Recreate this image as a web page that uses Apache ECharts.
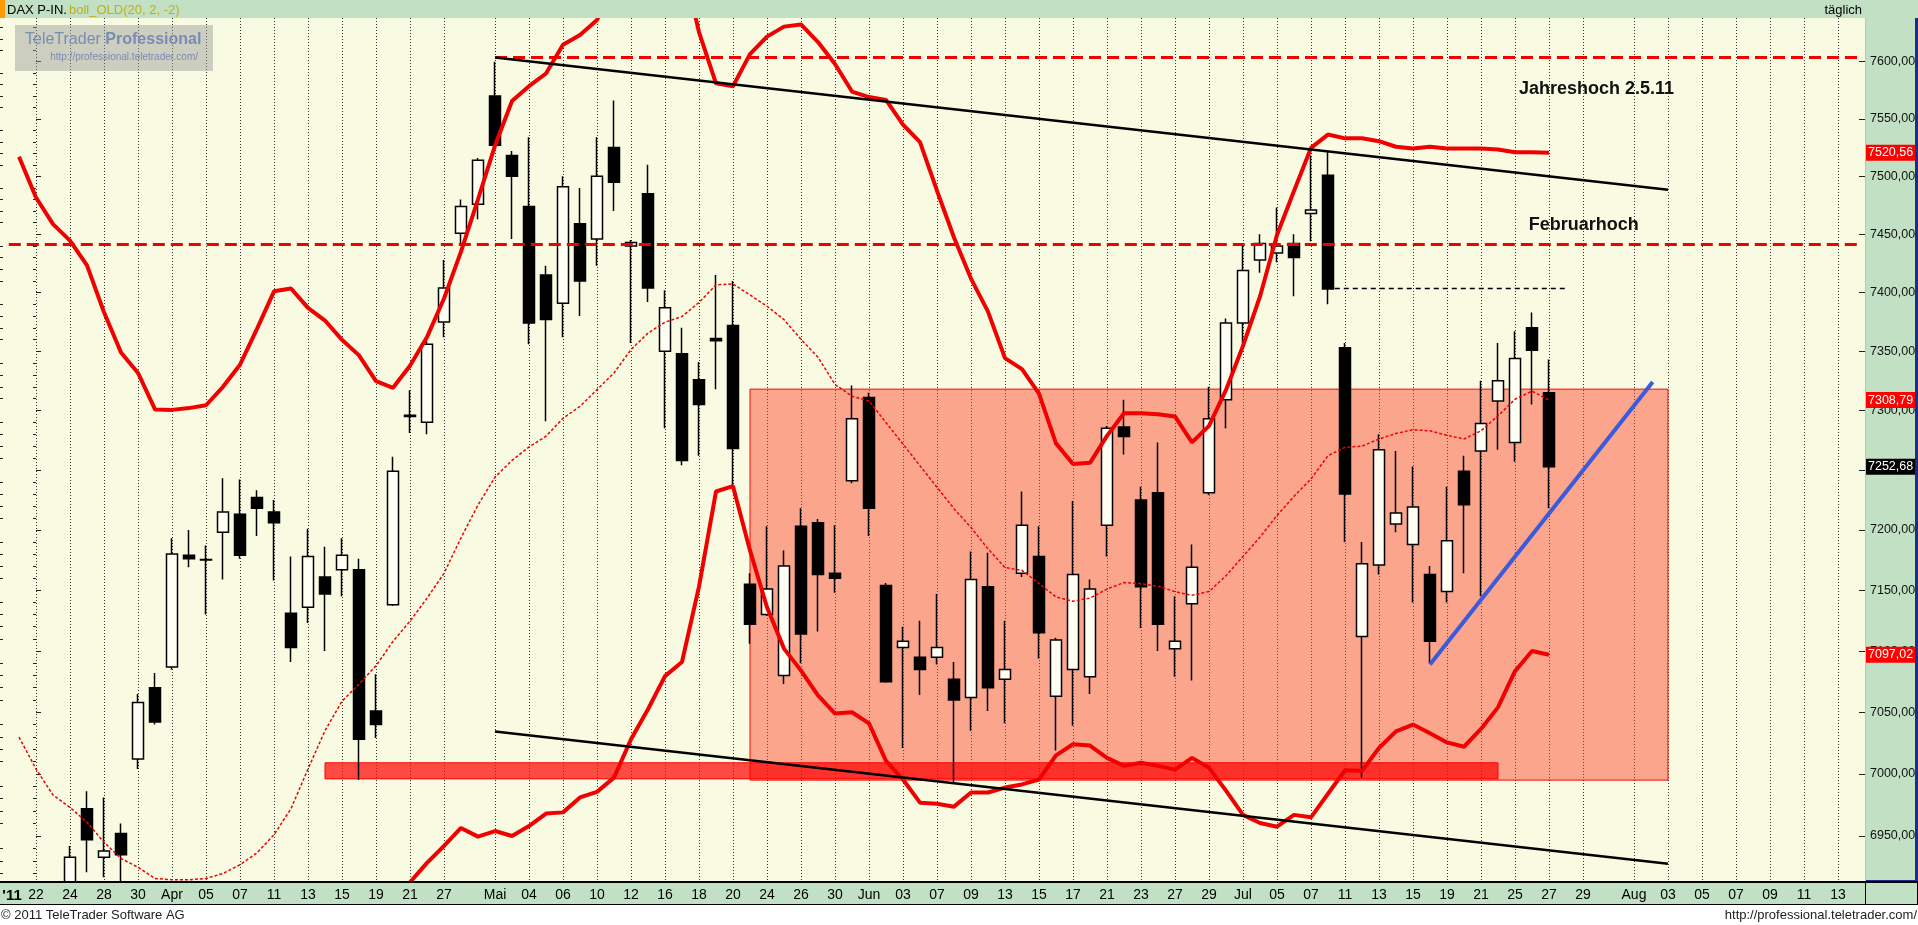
<!DOCTYPE html>
<html><head><meta charset="utf-8">
<script src="https://cdn.jsdelivr.net/npm/echarts@6/dist/echarts.min.js"></script>
<style>html,body{margin:0;padding:0;background:#fff;}#c{width:1918px;height:925px;}</style>
</head><body><div id="c"></div>
<script>
// ---------- DATA ----------
// x positions are trading-day slots; slot 0 = 22 Mar 2011, future slots are calendar days
const FIRST_CANDLE_SLOT = 2; // 24 Mar
const opens = [
 6895,6972,6933,6952,7012,7070,7087,7179,7175,7198,
 7213,7227,7215,7131,7136,7161,7167,7167,7051,7138,
 7295,7290,7375,7451,7476,7570,7518,7474,7415,7391,
 7459,7446,7525,7440,7485,7350,7348,7326,7361,7372,
 7155,7130,7080,7203,7206,7164,7241,7311,7154,7103,
 7095,7095,7077,7062,7153,7077,7164,7178,7063,7085,
 7079,7204,7286,7225,7231,7102,7139,7231,7309,7374,
 7428,7434,7442,7468,7501,7353,7112,7171,7205,7188,
 7163,7149,7249,7266,7308,7273,7370,7315];
const closes = [
 6933,6947,6938,6935,7058,7042,7180,7176,7175.5,7215,
 7179,7218,7206,7103,7178,7147,7179,7028,7040,7249,
 7296,7356,7404,7474,7514,7527,7500,7374,7377,7491,
 7410,7500,7495,7443,7404,7387,7258,7305,7359,7268,
 7122,7151,7170,7114,7163,7160,7293,7218,7075,7108,
 7085,7103,7060,7159,7070,7085,7204,7115,7109,7163,
 7151,7285,7278,7153,7122,7108,7169,7293,7374,7419,
 7442,7440,7430,7471,7403,7230,7172,7267,7214,7219,
 7108,7191,7221,7289,7325,7344,7351,7252.68];
const lows = [
 6880,6921,6917,6905,7004,7040,7085,7169,7130,7159,
 7176,7195,7158,7091,7123,7100,7145,6995,7029,7137,
 7281,7280,7362,7441,7463,7524,7446,7356,7291,7362,
 7380,7423,7470,7357,7392,7285,7254,7262,7318,7236,
 7106,7129,7073,7090,7116,7148,7239,7195,7074,7021,
 7064,7089,6992,7035,7051,7041,7161,7094,7019,7039,
 7065,7178,7263,7119,7100,7079,7076,7229,7285,7357,
 7417,7426,7397,7444,7390,7190,6997,7163,7198,7140,
 7090,7140,7164,7145,7267,7257,7305,7218];
const highs = [
 6942,6986,6981,6960,7065,7082,7193,7200,7187,7243,
 7242,7233,7225,7178,7201,7186,7193,7176,7081,7261,
 7317,7359,7428,7480,7516,7600,7522,7534,7423,7500,
 7490,7534,7566,7445,7510,7402,7370,7341,7415,7410,
 7164,7203,7183,7218,7209,7204,7321,7315,7156,7120,
 7125,7147,7091,7182,7181,7125,7232,7203,7111,7224,
 7159,7287,7309,7236,7273,7145,7188,7320,7378,7442,
 7450,7473,7450,7518,7521,7357,7190,7280,7266,7253,
 7170,7236,7262,7325,7357,7367,7383,7343];

const BAND_FIRST_SLOT = -1; // 21 Mar
const upperBand = [
 7517,7481.7,7458.8,7444.6,7423.3,7383.3,7349,7331.7,7300.9,7300.5,
 7302,7304.4,7320,7338.7,7369.1,7401.1,7403.5,7387,7376.2,7359.8,
 7346.6,7324.7,7319.1,7337.8,7362.1,7395,7435.1,7480.2,7526.6,7565.5,
 7578.5,7589.6,7614.9,7623.5,7636.7,7665,7690,7705,7705,7690,
 7626,7581,7578.5,7606.6,7622,7630.8,7632.7,7617.2,7597.9,7573.8,
 7569,7566.5,7545,7529.7,7487.6,7447.3,7412,7383.8,7344.3,7334.9,
 7314.3,7272.3,7255.1,7256,7278.6,7297.7,7297.7,7296.8,7295,7273.2,
 7287,7317.3,7354.6,7396.7,7449.4,7487.4,7524.7,7536.3,7533,7533,
 7530.5,7525.7,7524.2,7525.7,7524.2,7524.2,7524.2,7523.3,7520.9,7520.9,
 7520.56];
const midBand = [
 7029.8,7004,6983,6973,6961,6945,6932,6925,6916,6915,
 6915,6916,6920,6927,6936.5,6951,6972,7004,7035,7059,
 7073,7088,7108,7124.5,7143.5,7164,7193.5,7220.7,7244,7258,
 7269.3,7278.3,7293.4,7303.5,7317.6,7331.7,7351.5,7365.5,7374.8,7379.6,
 7391.6,7406.6,7407.4,7398,7388.4,7377,7360.2,7345,7322,7312,
 7308,7289.8,7271.7,7253.5,7235.6,7217.7,7202,7184.3,7168.8,7166.5,
 7155.6,7144.5,7141,7143.6,7151,7156.4,7155.5,7153.3,7148.9,7145.8,
 7149,7162,7178,7194,7212,7228,7242.5,7262,7269,7270,
 7276,7280.6,7283.8,7282.9,7279.2,7276,7282.9,7295.5,7309.4,7316.3,
 7308.79];
const LOWER_FIRST_SLOT = 21; // 20 Apr
const lowerBand = [
 6880,6913,6928.5,6942,6956.5,6949.5,6954,6950,6958,6968,
 6969,6981,6985.5,6997,7028,7052.5,7079.5,7091,7153,7232,
 7236.5,7183,7136,7102,7084,7063.7,7049,7050,7041,7010.5,
 6995.5,6976.8,6976,6973.6,6985,6985,6989,6991.5,6995.5,7015,
 7024,7023,7013,7006.5,7009,7006.5,7003.5,7013,7005,6986.5,
 6967,6960.4,6957.5,6967,6965,6984,7003,7002.5,7021,7034.5,
 7040,7033,7025.5,7022,7036.5,7054,7083.5,7100,7097.02];

// x axis tick labels
const tickSlots = [0,2,4,6,8,10,12,14,16,18,20,22,24,
 27,29,31,33,35,37,39,41,43,45,47,
 49,51,53,55,57,59,61,63,65,67,69,
 71,73,75,77,79,81,83,85,87,89,91,
 94,96,98,100,102,104,106];
const tickLabels = ['22','24','28','30','Apr','05','07','11','13','15','19','21','27',
 'Mai','04','06','10','12','16','18','20','24','26','30',
 'Jun','03','07','09','13','15','17','21','23','27','29',
 'Jul','05','07','11','13','15','19','21','25','27','29',
 'Aug','03','05','07','09','11','13'];
const yearTickSlot = -1.41;
const yearTickLabel = "'11";
// y axis tick labels
const priceTicks = [6950,7000,7050,7100,7150,7200,7250,7300,7350,7400,7450,7500,7550,7600];

// annotations (slot, price)
const yearHighLine = [[27, 7604], [107.2, 7604]];
const febHighLine = [[-1.6, 7441.5], [107.2, 7441.5]];
const channelUpper = [[27, 7603.7], [96, 7488.5]];
const channelLower = [[27, 7034.4], [96, 6927.7]];
const jul8CloseLine = [[76.4, 7403.5], [90.1, 7403.5]];
const supportLine = [[82, 7089], [95.1, 7324]];
const rangeBox = [[42, 7318], [96, 6995]];
const supportBar = [[17, 7009], [86, 6996]];
const noteTexts = ['Jahreshoch 2.5.11', 'Februarhoch'];
const notePos = [[91.8, 7576], [91.05, 7458]];
const lastUpper = 7520.56, lastMid = 7308.79, lastClose = 7252.68, lastLower = 7097.02;

// ---------- CHART ----------
const X_MIN = -2.118, X_MAX = 107.59, Y_MIN = 6913.2, Y_MAX = 7638.4;
const GREEN = '#c2e1c4', RED = '#f00000';
const FONT = '"Liberation Sans", Arial, sans-serif';

const candles = opens.map((o, i) => [FIRST_CANDLE_SLOT + i, o, closes[i], lows[i], highs[i]]);
const upperData = upperBand.map((v, i) => [BAND_FIRST_SLOT + i, v]);
const midData = midBand.map((v, i) => [BAND_FIRST_SLOT + i, v]);
const lowerData = lowerBand.map((v, i) => [LOWER_FIRST_SLOT + i, v]);

const xLabelMap = new Map(tickSlots.map((s, i) => [s, tickLabels[i]]));
const minorTicks = [];
for (let v = 6920; v <= 7630; v += 10) if (v % 50 !== 0) minorTicks.push(v);
const fmt = v => Number(v).toFixed(2).replace('.', ',');

function seg(pts, style) {
  return [{coord: pts[0], lineStyle: style}, {coord: pts[1]}];
}
function valueBox(v, bg) {
  return {yAxis: v, lineStyle: {color: 'rgba(0,0,0,0)', width: 0},
    label: {show: true, position: 'end', distance: 1, formatter: () => fmt(v),
      backgroundColor: bg, color: '#fff', fontSize: 12.5, fontFamily: FONT, padding: [2, 2, 1, 2]}};
}
const yBase = {type: 'log', logBase: 10, min: Y_MIN, max: Y_MAX, gridIndex: 0,
  splitLine: {show: false}, axisLabel: {show: false}, axisLine: {show: false}};

const option = {
  animation: false,
  backgroundColor: '#ffffff',
  grid: {left: 0, right: 53, top: 18, bottom: 43, show: true, backgroundColor: '#f8fbe1',
    borderWidth: 0, containLabel: false, outerBoundsMode: 'none'},
  xAxis: [{
    type: 'value', min: X_MIN, max: X_MAX, position: 'bottom',
    axisLine: {show: false},
    axisTick: {show: false, customValues: tickSlots},
    splitLine: {show: true, lineStyle: {color: '#333', width: 1, type: [1, 2]}},
    axisLabel: {show: false}
  }, {
    type: 'value', min: X_MIN, max: X_MAX, position: 'bottom', z: 20,
    axisLine: {show: true, onZero: false, lineStyle: {color: '#000', width: 2}},
    axisTick: {show: false, customValues: tickSlots},
    splitLine: {show: false},
    axisLabel: {customValues: [yearTickSlot].concat(tickSlots), margin: 6, fontSize: 14, color: '#000',
      fontFamily: FONT,
      formatter: v => (Math.abs(v - yearTickSlot) < 1e-6 ? '{y|' + yearTickLabel + '}' : (xLabelMap.get(v) || '')),
      rich: {y: {fontWeight: 'bold', fontSize: 15, color: '#000', fontFamily: FONT}}}
  }],
  yAxis: [
    Object.assign({}, yBase, {position: 'right',
      axisLine: {show: true, onZero: false, lineStyle: {color: '#e6c35a', width: 1}},
      axisTick: {show: true, inside: true, length: 6, customValues: priceTicks, lineStyle: {color: '#222'}},
      axisLabel: {show: true, customValues: priceTicks, formatter: fmt, margin: 5, fontSize: 12.5,
        color: '#111', fontFamily: FONT}}),
    Object.assign({}, yBase, {position: 'right',
      axisTick: {show: true, inside: true, length: 3, customValues: minorTicks, lineStyle: {color: '#222'}}}),
    Object.assign({}, yBase, {position: 'left',
      axisTick: {show: true, inside: true, length: 5, customValues: priceTicks, lineStyle: {color: '#222'}}}),
    Object.assign({}, yBase, {position: 'left',
      axisTick: {show: true, inside: true, length: 3, customValues: minorTicks, lineStyle: {color: '#222'}}})
  ],
  series: [
    {
      type: 'candlestick', name: 'DAX', data: candles, barWidth: 12, clip: true, z: 3,
      itemStyle: {color: '#fffff4', color0: '#000', borderColor: '#000', borderColor0: '#000', borderWidth: 1.5},
      markArea: {silent: true, data: [
        [{coord: rangeBox[0], itemStyle: {color: 'rgba(255,60,40,0.45)', borderColor: '#f00', borderWidth: 1}}, {coord: rangeBox[1]}],
        [{coord: supportBar[0], itemStyle: {color: 'rgba(255,0,0,0.7)', borderColor: '#f00', borderWidth: 1}}, {coord: supportBar[1]}]
      ]},
      markLine: {silent: true, symbol: ['none', 'none'], label: {show: false}, data: [
        seg(yearHighLine, {color: RED, width: 3, type: [12, 6]}),
        seg(febHighLine, {color: RED, width: 3, type: [12, 6]}),
        seg(channelUpper, {color: '#000', width: 2.5, type: 'solid'}),
        seg(channelLower, {color: '#000', width: 2.5, type: 'solid'}),
        seg(jul8CloseLine, {color: '#000', width: 1.3, type: [5, 4]}),
        seg(supportLine, {color: '#3b5bdb', width: 4, type: 'solid'}),
        valueBox(lastUpper, '#f00'),
        valueBox(lastMid, '#f00'),
        valueBox(lastClose, '#000'),
        valueBox(lastLower, '#f00')
      ]},
      markPoint: {silent: true, symbol: 'circle', symbolSize: 0,
        data: noteTexts.map((t, i) => ({name: t, coord: notePos[i]})),
        label: {show: true, position: 'inside', formatter: '{b}', fontSize: 18, fontWeight: 'bold',
          color: '#111', fontFamily: FONT}}
    },
    {type: 'line', name: 'upper', data: upperData, symbol: 'none', clip: true, z: 4,
      lineStyle: {color: RED, width: 4}},
    {type: 'line', name: 'lower', data: lowerData, symbol: 'none', clip: true, z: 4,
      lineStyle: {color: RED, width: 4}},
    {type: 'line', name: 'mid', data: midData, symbol: 'none', clip: true, z: 4,
      lineStyle: {color: RED, width: 1.5, type: [3, 2]}}
  ],
  graphic: [
    {type: 'rect', z: 15, silent: true, shape: {x: 0, y: 0, width: 1918, height: 18}, style: {fill: GREEN}},
    {type: 'rect', z: 15, silent: true, shape: {x: 0, y: 0, width: 5, height: 18}, style: {fill: '#ff9900'}},
    {type: 'text', z: 21, silent: true, x: 7, y: 10, style: {text: 'DAX P-IN.', fill: '#000', font: '13px ' + FONT, verticalAlign: 'middle'}},
    {type: 'text', z: 21, silent: true, x: 69, y: 10, style: {text: 'boll_OLD(20, 2, -2)', fill: '#bfae14', font: '13px ' + FONT, verticalAlign: 'middle'}},
    {type: 'text', z: 21, silent: true, x: 1862, y: 10, style: {text: 'täglich', fill: '#000', font: '13px ' + FONT, align: 'right', verticalAlign: 'middle'}},
    {type: 'rect', z: -1, silent: true, shape: {x: 1865, y: 18, width: 51, height: 864}, style: {fill: GREEN}},
    {type: 'rect', z: -1, silent: true, shape: {x: 1915, y: 18, width: 3, height: 864}, style: {fill: '#1c2c8c'}},
    {type: 'rect', z: -1, silent: true, shape: {x: 1865, y: 880, width: 53, height: 2}, style: {fill: '#1c2c8c'}},
    {type: 'rect', z: 15, silent: true, shape: {x: 0, y: 882, width: 1918, height: 23}, style: {fill: GREEN}},
    {type: 'rect', z: 15, silent: true, shape: {x: 0, y: 905, width: 1918, height: 20}, style: {fill: '#ffffff'}},
    {type: 'rect', z: 16, silent: true, shape: {x: 0, y: 881, width: 1918, height: 2}, style: {fill: '#000'}},
    {type: 'rect', z: 16, silent: true, shape: {x: 0, y: 904, width: 1918, height: 1}, style: {fill: '#000'}},
    {type: 'rect', z: 16, silent: true, shape: {x: 1865, y: 882, width: 1, height: 23}, style: {fill: '#000'}},
    {type: 'rect', z: 16, silent: true, shape: {x: 1917, y: 882, width: 1, height: 23}, style: {fill: '#000'}},
    {type: 'text', z: 21, silent: true, x: 1, y: 915, style: {text: '© 2011 TeleTrader Software AG', fill: '#222', font: '13px ' + FONT, verticalAlign: 'middle'}},
    {type: 'text', z: 21, silent: true, x: 1917, y: 915, style: {text: 'http://professional.teletrader.com/', fill: '#222', font: '13px ' + FONT, align: 'right', verticalAlign: 'middle'}},
    {type: 'rect', z: 1, silent: true, shape: {x: 15, y: 25, width: 198, height: 46}, style: {fill: 'rgba(150,150,150,0.45)'}},
    {type: 'text', z: 10, silent: true, x: 25, y: 40, style: {text: '{a|TeleTrader }{b|Professional}', verticalAlign: 'middle',
      rich: {a: {fill: '#7a8bb5', font: '16px ' + FONT}, b: {fill: '#7a8bb5', font: 'bold 16px ' + FONT}}}},
    {type: 'text', z: 10, silent: true, x: 198, y: 57, style: {text: 'http://professional.teletrader.com/', fill: '#7a8bb5', font: '10px ' + FONT, align: 'right', verticalAlign: 'middle'}}
  ]
};
const chart = echarts.init(document.getElementById('c'), null, {renderer: 'canvas', width: 1918, height: 925});
chart.setOption(option);
</script></body></html>
